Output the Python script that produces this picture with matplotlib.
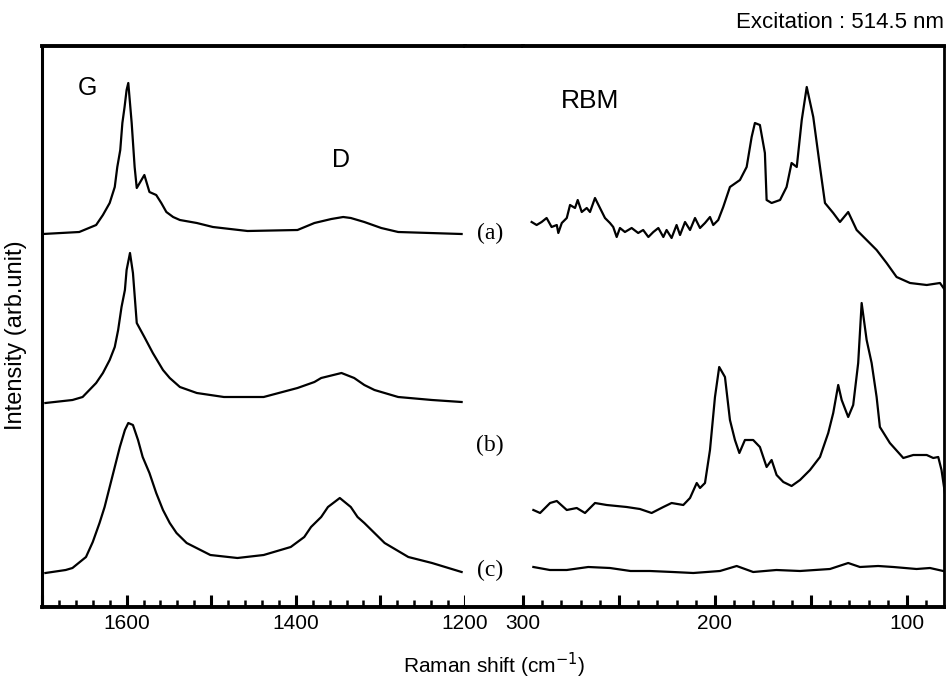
import matplotlib
matplotlib.use("Agg")
import matplotlib.pyplot as plt
from matplotlib.ticker import MultipleLocator, FuncFormatter

plt.rcParams['font.family'] = ['Liberation Sans', 'DejaVu Sans']

# ---- G / D band region (cm-1, arb. intensity incl. stacking offset) ----
gd_shift_a = [1699, 1656, 1636, 1628, 1620, 1614, 1611, 1607.5, 1605, 1602.4, 1600, 1598,
              1594, 1590.5, 1588, 1579, 1573, 1565, 1559, 1553, 1545, 1537, 1517, 1498,
              1457, 1398, 1378, 1358, 1344, 1335, 1319, 1299, 1279, 1204]
gd_int_a = [373, 375, 382, 392, 404, 420, 440, 457, 484, 500, 517, 524,
            484, 440, 419, 432, 415, 412, 404, 395, 390, 387, 384, 380,
            376, 377, 384, 388, 390, 389, 385, 379, 375, 373]

gd_shift_b = [1696, 1664, 1652, 1636, 1628, 1620, 1614, 1610, 1606, 1602, 1600, 1596,
              1592.5, 1588, 1579, 1569, 1557, 1549, 1537, 1517, 1485, 1438, 1398, 1378,
              1370, 1346, 1331, 1319, 1307, 1279, 1239, 1204]
gd_int_b = [204, 207, 210, 224, 234, 247, 260, 277, 300, 317, 337, 354,
            334, 284, 270, 254, 237, 229, 220, 214, 210, 210, 219, 225,
            229, 234, 229, 222, 217, 210, 207, 205]

gd_shift_c = [1696, 1672, 1664, 1648, 1640, 1632, 1626, 1620, 1614, 1608, 1602, 1598,
              1592.5, 1586.5, 1581, 1573, 1565, 1557, 1549, 1541, 1529, 1501, 1469, 1438,
              1406, 1390, 1382, 1370, 1362, 1348, 1335, 1327, 1319, 1307, 1295, 1267,
              1239, 1204]
gd_int_c = [34, 37, 39, 50, 65, 84, 100, 120, 140, 160, 177, 184,
            182, 167, 150, 134, 114, 97, 84, 74, 64, 52, 49, 52,
            60, 70, 80, 90, 100, 109, 100, 90, 84, 74, 64, 50,
            44, 35]

# ---- RBM region ----
rbm_shift_a = [295.5, 292.9, 290.3, 287.7, 285.1, 282.4, 281.6, 279.8, 277.2, 275.5, 272.9,
               271.5, 269.4, 266.8, 265.1, 262.5, 259.9, 257.3, 254.7, 253.0, 251.2, 249.5,
               246.9, 243.4, 240.0, 237.4, 234.7, 232.1, 229.5, 226.9, 225.2, 222.6, 220.0,
               218.2, 215.6, 213.0, 210.4, 207.8, 205.2, 202.6, 200.9, 198.3, 195.7,
               192.2, 187.0, 183.5, 180.9, 179.2, 176.6, 174.0, 173.1, 170.5, 166.1, 162.7,
               160.1, 157.4, 154.8, 152.2, 148.8, 145.3, 142.7, 138.4, 134.9, 130.6, 126.2,
               121.0, 115.8, 110.6, 105.4, 98.4, 89.7, 82.8, 80.2]
rbm_int_a = [385, 382, 385, 389, 380, 382, 374, 384, 389, 402, 399,
             407, 395, 399, 395, 409, 399, 389, 384, 380, 370, 379,
             375, 379, 374, 377, 370, 375, 379, 370, 377, 369, 382,
             372, 385, 377, 389, 379, 384, 390, 382, 387, 400,
             420, 427, 440, 470, 484, 482, 454, 407, 404, 407, 420,
             444, 440, 487, 520, 490, 440, 404, 394, 385, 395, 377,
             367, 357, 344, 330, 324, 322, 324, 317]

rbm_shift_b = [294.6, 291.1, 285.9, 282.4, 277.2, 272.0, 267.7, 262.5, 256.4, 246.0, 239.1,
               233.0, 226.9, 222.6, 216.5, 213.0, 209.5, 207.8, 205.2, 202.6, 200.0, 197.8,
               194.8, 192.2, 189.6, 187.3, 184.4, 180.1, 176.6, 173.1, 170.5, 167.9, 164.4,
               160.1, 155.7, 150.5, 145.3, 141.0, 138.4, 135.8, 134.0, 130.6, 128.0, 125.4,
               123.6, 121.0, 118.4, 115.8, 114.1, 108.9, 101.9, 96.7, 89.7, 86.3, 83.7,
               82.0, 79.7]
rbm_int_b = [97, 94, 104, 106, 97, 99, 94, 104, 102, 100, 98,
             94, 100, 104, 102, 109, 124, 119, 124, 157, 210, 240,
             230, 187, 167, 154, 167, 167, 160, 140, 147, 132, 125,
             121, 127, 137, 150, 174, 194, 222, 207, 190, 202, 244,
             304, 267, 244, 210, 180, 164, 149, 152, 152, 149, 150,
             137, 107]

rbm_shift_c = [294.6, 286.0, 277.2, 266.0, 254.7, 244.0, 233.9, 222.0, 211.3, 197.4, 188.7,
               180.1, 168.0, 155.7, 140.1, 130.6, 124.5, 115.0, 107.1, 95.0, 88.0, 81.1]
rbm_int_c = [40, 37, 37, 40, 39, 36, 36, 35, 34, 36, 41,
             35, 37, 36, 38, 44, 40, 41, 40, 38, 39, 36]

sample_labels = ['(a)', '(b)', '(c)']
label_levels = [374, 162, 37]

fig = plt.figure(figsize=(9.46, 6.78), dpi=100)
W, H = 946.0, 678.0
bot = 1 - 607 / H
hgt = (607 - 46) / H

ax_l = fig.add_axes([42 / W, bot, (465 - 42) / W, hgt])
ax_m = fig.add_axes([465 / W, bot, (523 - 465) / W, hgt])
ax_r = fig.add_axes([523 / W, bot, (944 - 523) / W, hgt])

lw = 1.6
ax_l.plot(gd_shift_a, gd_int_a, color='black', lw=lw)
ax_l.plot(gd_shift_b, gd_int_b, color='black', lw=lw)
ax_l.plot(gd_shift_c, gd_int_c, color='black', lw=lw)
ax_r.plot(rbm_shift_a, rbm_int_a, color='black', lw=lw)
ax_r.plot(rbm_shift_b, rbm_int_b, color='black', lw=lw)
ax_r.plot(rbm_shift_c, rbm_int_c, color='black', lw=lw)

ax_l.set_xlim(1700, 1200)
ax_r.set_xlim(300, 80.7)
for ax in (ax_l, ax_m, ax_r):
    ax.set_ylim(0, 561)
    ax.set_yticks([])
    for s in ax.spines.values():
        s.set_linewidth(2.8)

ax_l.spines['right'].set_visible(False)
ax_r.spines['left'].set_visible(False)
ax_m.spines['left'].set_visible(False)
ax_m.spines['right'].set_visible(False)
ax_m.set_xticks([])
ax_r.spines['right'].set_linewidth(2.0)
ax_l.spines['left'].set_linewidth(2.2)

ax_l.xaxis.set_major_locator(MultipleLocator(100))
ax_l.xaxis.set_minor_locator(MultipleLocator(20))
ax_l.xaxis.set_major_formatter(FuncFormatter(lambda v, p: '%d' % v if v % 200 == 0 and v < 1700 else ''))
ax_r.xaxis.set_major_locator(MultipleLocator(50))
ax_r.xaxis.set_minor_locator(MultipleLocator(10))
ax_r.xaxis.set_major_formatter(FuncFormatter(lambda v, p: '%d' % v if v % 100 == 0 else ''))

for ax in (ax_l, ax_r):
    ax.tick_params(axis='x', which='major', direction='in', length=9, width=2.2,
                   labelsize=15, pad=5)
    ax.tick_params(axis='x', which='minor', direction='in', length=5, width=1.8)

ax_l.text(1658, 519, 'G', fontsize=18, ha='left', va='center')
ax_l.text(1346, 447, 'D', fontsize=18, ha='center', va='center')
ax_r.text(265, 506, 'RBM', fontsize=19, ha='center', va='center')

for lab, lev in zip(sample_labels, label_levels):
    fig.text(490 / W, 1 - (607 - lev) / H, lab, fontsize=17, ha='center', va='center',
             family=['Liberation Serif', 'DejaVu Serif'])

fig.text(944 / W, 1 - 22 / H, 'Excitation : 514.5 nm', fontsize=16, ha='right', va='center')
fig.text(494 / W, 1 - 665 / H, 'Raman shift (cm$^{-1}$)', fontsize=15, ha='center', va='center')
fig.text(16 / W, 1 - 335 / H, 'Intensity (arb.unit)', fontsize=17, ha='center', va='center',
         rotation=90)

fig.savefig('out.png', dpi=100)
